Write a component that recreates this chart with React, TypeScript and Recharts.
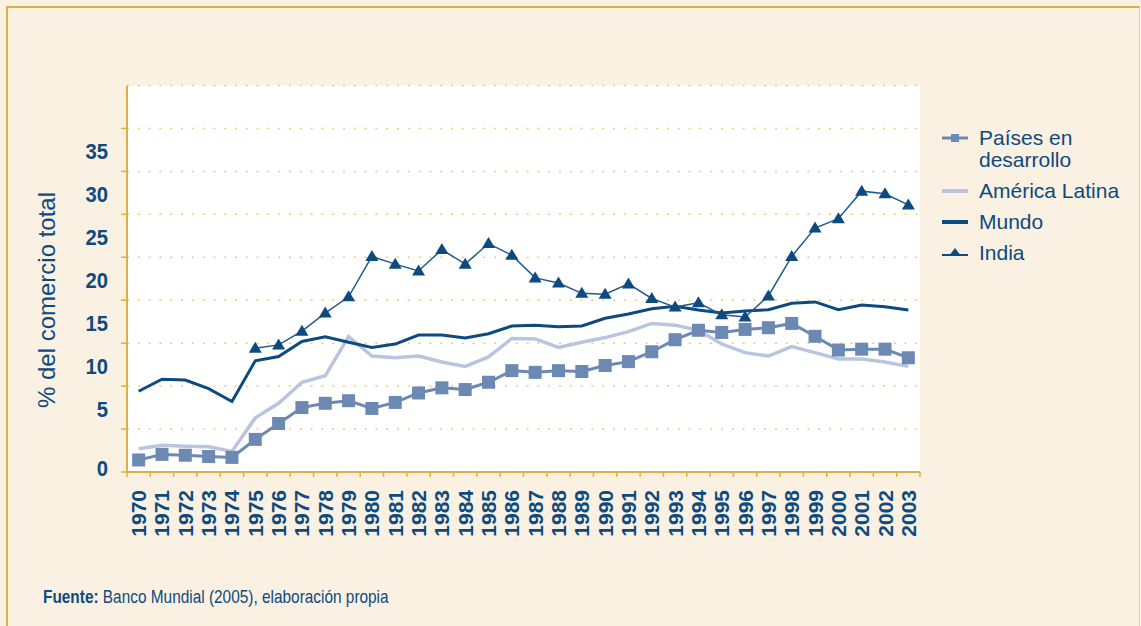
import React from 'react';
import { LineChart, Line, XAxis, YAxis, CartesianGrid } from 'recharts';

// Participación de los servicios en el comercio total (%), 1970-2003
const years = [
  1970, 1971, 1972, 1973, 1974, 1975, 1976, 1977, 1978, 1979, 1980, 1981,
  1982, 1983, 1984, 1985, 1986, 1987, 1988, 1989, 1990, 1991, 1992, 1993,
  1994, 1995, 1996, 1997, 1998, 1999, 2000, 2001, 2002, 2003,
];

const paises = [
  1.4, 2.05, 1.95, 1.8, 1.7, 3.8, 5.65, 7.5, 8.0, 8.3, 7.4, 8.1,
  9.2, 9.8, 9.6, 10.45, 11.8, 11.6, 11.8, 11.7, 12.4, 12.85, 14.0, 15.4,
  16.5, 16.25, 16.6, 16.8, 17.3, 15.8, 14.2, 14.3, 14.3, 13.3,
];

const latina = [
  2.7, 3.1, 3.0, 2.95, 2.4, 6.3, 8.0, 10.45, 11.2, 15.75, 13.5, 13.3,
  13.5, 12.8, 12.3, 13.4, 15.55, 15.5, 14.5, 15.1, 15.65, 16.35, 17.3, 17.1,
  16.5, 14.9, 13.9, 13.5, 14.6, 13.9, 13.15, 13.15, 12.8, 12.3,
];

const mundo = [
  9.4, 10.8, 10.7, 9.7, 8.2, 12.95, 13.45, 15.2, 15.75, 15.1, 14.5, 14.9,
  15.95, 15.95, 15.6, 16.1, 17.0, 17.1, 16.9, 17.0, 17.9, 18.4, 19.0, 19.3,
  18.85, 18.5, 18.75, 18.9, 19.65, 19.8, 18.9, 19.45, 19.25, 18.85,
];

const india = [
  null, null, null, null, null, 14.4, 14.8, 16.4, 18.5, 20.4, 25.1, 24.2,
  23.4, 25.9, 24.2, 26.6, 25.25, 22.6, 22.0, 20.8, 20.7, 21.9, 20.2, 19.2,
  19.7, 18.3, 18.05, 20.5, 25.1, 28.4, 29.5, 32.7, 32.4, 31.1,
];

const yTicks = [0, 5, 10, 15, 20, 25, 30, 35, 40];
// tick marks sit between the years
const xTicks = [...years.map(y => y - 0.5), years[years.length - 1] + 0.5];

const data = years.map((year, i) => ({
  year,
  paises: paises[i],
  latina: latina[i],
  mundo: mundo[i],
  india: india[i],
}));

const W = 1141;
const H = 626;
const PLOT_LEFT = 127;
const PLOT_RIGHT = 920;
const HALF_BAND = (PLOT_RIGHT - PLOT_LEFT) / years.length / 2;

const gold = '#DDB042';
const navy = '#0C4A80';
const steel = '#6C89B4';
const pale = '#B9C5DF';
const sans = "'Liberation Sans', Arial, sans-serif";

const Square = (props: any) => {
  const { cx, cy } = props;
  if (cx == null || cy == null) return <g />;
  return <rect x={cx - 6.5} y={cy - 6.5} width={13} height={13} fill={steel} />;
};

const Triangle = (props: any) => {
  const { cx, cy, payload } = props;
  if (cx == null || cy == null || payload.india == null) return <g />;
  return (
    <polygon
      points={`${cx},${cy - 6.5} ${cx - 6.5},${cy + 4.5} ${cx + 6.5},${cy + 4.5}`}
      fill={navy}
    />
  );
};

const XTick = (props: any) => {
  const { x, y, payload } = props;
  const year = payload.value + 0.5;
  if (year > years[years.length - 1]) return <g />;
  return (
    <text
      transform={`translate(${x + HALF_BAND + 7.5}, ${y + 11}) rotate(-90)`}
      textAnchor="end"
      fill={navy}
      fontSize={21}
      fontWeight="bold"
      fontFamily={sans}
    >
      {year}
    </text>
  );
};

const YTick = (props: any) => {
  const { x, y, payload } = props;
  if (payload.value === 40) return <g />;
  const ty = y + (payload.value === 0 ? -4 : -20);
  return (
    <text
      transform={`translate(${x}, ${ty}) scale(0.92, 1)`}
      dy="0.36em"
      textAnchor="end"
      fill={navy}
      fontSize={22}
      fontWeight="bold"
      fontFamily={sans}
    >
      {payload.value}
    </text>
  );
};

const legendItems = [
  { label: ['Países en', 'desarrollo'], kind: 'square' },
  { label: ['América Latina'], kind: 'pale' },
  { label: ['Mundo'], kind: 'navy' },
  { label: ['India'], kind: 'triangle' },
];

const LegendMarker = ({ kind }: { kind: string }) => (
  <svg width={28} height={14} style={{ display: 'block' }}>
    {kind === 'square' && (
      <>
        <line x1={1} x2={27} y1={7} y2={7} stroke={steel} strokeWidth={3} />
        <rect x={10} y={3} width={8} height={8} fill={steel} />
      </>
    )}
    {kind === 'pale' && <line x1={1} x2={27} y1={7} y2={7} stroke={pale} strokeWidth={4} />}
    {kind === 'navy' && <line x1={1} x2={27} y1={7} y2={7} stroke={navy} strokeWidth={4} />}
    {kind === 'triangle' && (
      <>
        <line x1={1} x2={27} y1={9} y2={9} stroke={navy} strokeWidth={2} />
        <polygon points="14,2 8,10 20,10" fill={navy} />
      </>
    )}
  </svg>
);

export default function App() {
  return (
    <div
      style={{
        position: 'absolute',
        left: 0,
        top: 0,
        width: W,
        height: H,
        background: '#FAF1E2',
        overflow: 'hidden',
      }}
    >
      <div
        style={{
          position: 'absolute',
          left: 6,
          top: 6,
          width: 1131,
          height: 700,
          borderLeft: `2px solid ${gold}`,
          borderTop: `2px solid ${gold}`,
          borderRight: '1px solid #EFD590',
        }}
      />
      <LineChart
        width={W}
        height={H}
        data={data}
        margin={{ top: 85.5, right: W - PLOT_RIGHT, bottom: 94, left: 0 }}
        style={{ position: 'absolute', left: 0, top: 0 }}
      >
        <CartesianGrid vertical={false} stroke="#EFC978" strokeWidth={1.5} strokeDasharray="2 8.8" fill="#FFFFFF" />
        <XAxis
          dataKey="year"
          type="number"
          domain={[xTicks[0], xTicks[xTicks.length - 1]]}
          ticks={xTicks}
          interval={0}
          height={60}
          axisLine={{ stroke: gold, strokeWidth: 2 }}
          tickLine={{ stroke: gold, strokeWidth: 1.5 }}
          tickSize={5}
          tickMargin={2}
          tick={<XTick />}
        />
        <XAxis
          xAxisId="top"
          orientation="top"
          dataKey="year"
          type="number"
          domain={[xTicks[0], xTicks[xTicks.length - 1]]}
          height={0}
          tick={false}
          tickLine={false}
          axisLine={{ stroke: gold, strokeWidth: 2 }}
        />
        <YAxis
          domain={[0, 45]}
          ticks={yTicks}
          interval={0}
          width={PLOT_LEFT}
          axisLine={{ stroke: gold, strokeWidth: 2 }}
          tickLine={{ stroke: gold, strokeWidth: 1.5 }}
          tickSize={6}
          tickMargin={13}
          tick={<YTick />}
        />
        <YAxis
          yAxisId="right"
          orientation="right"
          domain={[0, 45]}
          width={0}
          tick={false}
          tickLine={false}
          axisLine={{ stroke: gold, strokeWidth: 2 }}
        />
        <Line
          dataKey="latina"
          stroke={pale}
          strokeWidth={3.5}
          dot={false}
          isAnimationActive={false}
        />
        <Line
          dataKey="paises"
          stroke={steel}
          strokeWidth={3}
          dot={<Square />}
          isAnimationActive={false}
        />
        <Line
          dataKey="mundo"
          stroke={navy}
          strokeWidth={3}
          dot={false}
          isAnimationActive={false}
        />
        <Line
          dataKey="india"
          stroke="#1F5A8E"
          strokeWidth={1.5}
          dot={<Triangle />}
          isAnimationActive={false}
        />
      </LineChart>

      <div
        style={{
          position: 'absolute',
          left: 47,
          top: 300,
          transform: 'translate(-50%, -50%) rotate(-90deg)',
          whiteSpace: 'nowrap',
          color: navy,
          fontFamily: sans,
          fontSize: 24,
        }}
      >
        % del comercio total
      </div>

      <div style={{ position: 'absolute', left: 941, top: 127, fontFamily: sans, color: navy, fontSize: 21 }}>
        {legendItems.map(item => (
          <div key={item.label[0]} style={{ display: 'flex', alignItems: 'flex-start', marginBottom: 9 }}>
            <div style={{ marginTop: 4, marginRight: 10 }}>
              <LegendMarker kind={item.kind} />
            </div>
            <div style={{ lineHeight: '22px' }}>
              {item.label.map(l => (
                <div key={l}>{l}</div>
              ))}
            </div>
          </div>
        ))}
      </div>

      <div
        style={{
          position: 'absolute',
          left: 43,
          top: 586,
          fontFamily: sans,
          fontSize: 19,
          color: navy,
          whiteSpace: 'nowrap',
          transform: 'scale(0.81, 1)',
          transformOrigin: 'left top',
        }}
      >
        <b>Fuente:</b> Banco Mundial (2005), elaboración propia
      </div>
    </div>
  );
}
